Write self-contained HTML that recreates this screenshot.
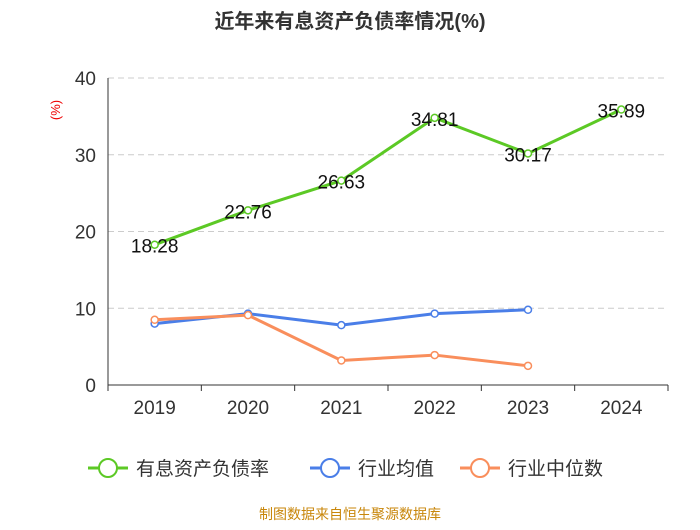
<!DOCTYPE html>
<html><head><meta charset="utf-8"><style>
body{margin:0;background:#fff;font-family:"Liberation Sans","Noto Sans CJK SC",sans-serif}
</style></head><body>
<svg id="c" width="700" height="525" xmlns="http://www.w3.org/2000/svg">
<text x="350" y="28" text-anchor="middle" font-size="20" font-weight="bold" fill="#333" font-family="Liberation Sans,Noto Sans CJK SC,sans-serif">近年来有息资产负债率情况(%)</text>
<text x="60" y="110" text-anchor="middle" font-size="13" fill="#e00" transform="rotate(-90 60 110)">(%)</text>
<g id="grid"></g><g id="axes"></g><g id="series"></g>
<g id="legend"></g>
<text x="350" y="519" text-anchor="middle" font-size="14" fill="#c8860a" font-family="Liberation Sans,Noto Sans CJK SC,sans-serif">制图数据来自恒生聚源数据库</text>
</svg>
<script>
const categories=["2019","2020","2021","2022","2023","2024"];
const debtRatio=[18.28,22.76,26.63,34.81,30.17,35.89];
const industryAvg=[8.0,9.3,7.8,9.3,9.8];
const industryMedian=[8.5,9.1,3.2,3.9,2.5];
const yTicks=[0,10,20,30,40];
const NS="http://www.w3.org/2000/svg";
const L=108,R=668,T=78,B=385;
const x=i=>L+(R-L)/categories.length*(i+0.5);
const y=v=>B-(B-T)*v/40;
function mk(tag,attrs,parent){const e=document.createElementNS(NS,tag);for(const k in attrs)e.setAttribute(k,attrs[k]);parent.appendChild(e);return e;}
const grid=document.getElementById('grid'),axes=document.getElementById('axes'),ser=document.getElementById('series'),leg=document.getElementById('legend');
yTicks.forEach(t=>{
 if(t>0){const g=mk('line',{x1:L,x2:R,y1:y(t),y2:y(t),stroke:'#ccc','stroke-dasharray':'6,4'},grid);
 
 }
 const tx=mk('text',{x:96,y:y(t)+7,'text-anchor':'end','font-size':19,fill:'#333'},axes);tx.textContent=t;
 
 
});
const ax=mk('line',{x1:L,x2:L,y1:T,y2:B,stroke:'#333'},axes);


const xa=mk('line',{x1:L,x2:R,y1:B,y2:B,stroke:'#333'},axes);


categories.forEach((c,i)=>{
 const bx=L+(R-L)/categories.length*i;
 mk('line',{x1:bx,x2:bx,y1:B,y2:B+6,stroke:'#333'},axes);
 const tx=mk('text',{x:x(i),y:B+29,'text-anchor':'middle','font-size':19,fill:'#333'},axes);tx.textContent=c;
 
 
});
mk('line',{x1:R,x2:R,y1:B,y2:B+6,stroke:'#333'},axes);
function series(data,color,name,labels){
 const p=mk('polyline',{points:data.map((v,i)=>x(i)+','+y(v)).join(' '),fill:'none',stroke:color,'stroke-width':3},ser);
 
 
 data.forEach((v,i)=>{
  const c=mk('circle',{cx:x(i),cy:y(v),r:3.5,fill:'#fff',stroke:color,'stroke-width':1.5},ser);
  
  
  if(labels){const t=mk('text',{x:x(i),y:y(v)+8,'text-anchor':'middle','font-size':19,fill:'#111'},ser);t.textContent=v.toFixed(2);
  
  }
 });
}
series(industryAvg,'#4a7ee8','industry-avg',false);
series(industryMedian,'#f98e5c','industry-median',false);
series(debtRatio,'#5cc925','debt-ratio',true);
[['有息资产负债率','#5cc925',88],['行业均值','#4a7ee8',310],['行业中位数','#f98e5c',460]].forEach(([n,col,lx])=>{
 const g=mk('g',{},leg);
 
 
 mk('line',{x1:lx,x2:lx+40,y1:468,y2:468,stroke:col,'stroke-width':3},g);
 mk('circle',{cx:lx+20,cy:468,r:9,fill:'#fff',stroke:col,'stroke-width':2},g);
 const t=mk('text',{x:lx+48,y:475,'font-size':19,fill:'#333','font-family':'Liberation Sans,Noto Sans CJK SC,sans-serif'},g);t.textContent=n;
});
</script>
</body></html>
